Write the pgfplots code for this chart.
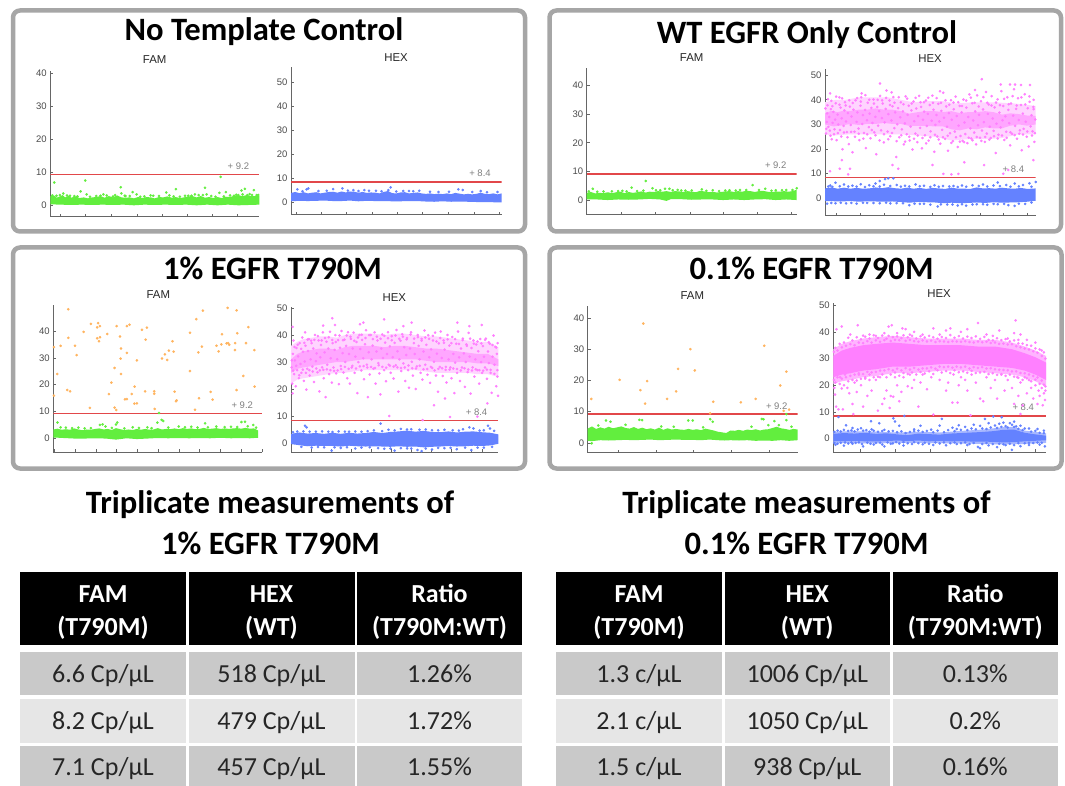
\documentclass[border=0pt]{standalone}
\usepackage{pgfplots}
\pgfplotsset{compat=1.18}
\usepackage{fontspec}
\setmainfont{Carlito}
\newfontfamily\lib{Liberation Sans}
\definecolor{gr}{HTML}{62EE3E}
\definecolor{bl}{HTML}{6482FF}
\definecolor{pk}{HTML}{FF80FF}
\definecolor{lpk}{HTML}{FFA6FF}
\definecolor{vpk}{HTML}{FFD4FF}
\definecolor{mpk}{HTML}{FFB4FF}
\definecolor{lbl}{HTML}{A8B8FF}
\definecolor{og}{HTML}{FFB45E}
\definecolor{rd}{HTML}{E2474A}
\definecolor{frame}{HTML}{A6A6A6}
\definecolor{axc}{HTML}{666666}
\definecolor{rowa}{HTML}{C9C9C9}
\definecolor{rowb}{HTML}{E6E6E6}
\pgfplotsset{panel/.style={scale only axis,anchor=south west,xmin=0,xmax=100,
 axis x line*=bottom,axis y line*=left,axis line style={-,axc,line width=1pt},
 xticklabels={},tick style={axc,line width=0.7pt},major tick length=3pt,tick align=inside,
 tick label style={font=\lib\fontsize{9.5}{9.5}\selectfont,text=black!70},
 /pgf/number format/assume math mode=true,ytick distance=10},
 dots/.style={only marks,mark=*,mark size=1.1pt,color=#1,mark options={draw=none,fill=#1}},
 band/.style={fill=#1,draw=none,no marks}}
\newcommand\thrtxt[3]{\node[font=\lib\fontsize{9.5}{10}\selectfont,text=black!50] at (axis cs:#1,#2) {+ #3};}
\newcommand\head[3]{\node[font=\lib\fontsize{11.4}{12}\selectfont,text=black!85] at (#1pt,-#2pt) {#3};}
\newcommand\boxx[4]{\draw[frame,line width=4.5pt,rounded corners=7pt,fill=white] (#1pt,-#2pt) rectangle (#3pt,-#4pt);}
\newcommand\ttl[3]{\node[font=\bfseries\fontsize{32.6}{33}\selectfont] at (#1pt,-#2pt) {#3};}
\newcommand\hcell[4]{\fill[black] (#1pt,-572pt) rectangle (#2pt,-645pt);
 \node[font=\bfseries\fontsize{26}{26}\selectfont,text=white,text height=0.75em,text depth=0.25em] at ({(#1+#2)/2*1pt},-600pt) {#3};
 \node[font=\bfseries\fontsize{26}{26}\selectfont,text=white,text height=0.75em,text depth=0.25em] at ({(#1+#2)/2*1pt},-633pt) {#4};}
\newcommand\rcell[6]{\fill[#5] (#1pt,-#3pt) rectangle (#2pt,-#4pt);
 \node[font=\fontsize{26}{26}\selectfont,text=black!85,text height=0.75em,text depth=0.25em] at ({(#1+#2)/2*1pt},{-(#3+#4)/2*1pt-6.5pt}) {#6};}
\begin{document}
\begin{tikzpicture}
\path[use as bounding box,fill=white] (0,0) rectangle (1065pt,-786pt);
\boxx{13}{10.5}{525}{231.5}
\boxx{549.5}{10.5}{1061}{231.5}
\boxx{13}{247.5}{525}{468.5}
\boxx{549.5}{247.5}{1061.5}{468.5}
\ttl{264}{32}{No Template Control}
\ttl{807}{35}{WT EGFR Only Control}
\ttl{272.5}{268}{1\% EGFR T790M}
\ttl{811.5}{268}{0.1\% EGFR T790M}
\head{154.7}{60}{FAM}\head{396}{57.3}{HEX}
\head{691.7}{57.7}{FAM}\head{930}{59}{HEX}
\head{158.3}{295}{FAM}\head{394.3}{297.3}{HEX}
\head{692.3}{295.7}{FAM}\head{939}{293.3}{HEX}

% ---------- No template FAM
\begin{axis}[panel,at={(50.3pt,-216.7pt)},width=209pt,height=145.7pt,ymin=-3.55,ymax=40.6,
 xtick={4.9,17,29,41.5,53.5,65.6,77.6,89.6}]
\addplot[band=gr] coordinates {(0,2.7)(2,2.8)(3,2.2)(5,2.7)(6,3)(7,2.3)(9,2.8)(10,2.2)(12,2.6)(14,2.1)(16,2.3)(18,2)(20,2.3)(22,2.4)(24,2.7)(26,2.2)(28,2.7)(30,2.3)(32,2.9)(34,2.3)(36,2.2)(38,2.3)(40,2)(42,2.4)(44,2.1)(46,2.4)(48,2.3)(50,2)(52,2.4)(54,2.3)(56,2.6)(58,2.2)(60,2.4)(62,2.1)(64,2.3)(66,2.6)(68,2.7)(70,2.3)(72,2.7)(74,2.2)(76,2.4)(78,2.1)(80,2.4)(82,2.1)(84,2.5)(86,2.4)(88,2.8)(90,2.9)(92,2.7)(94,3)(96,2.7)(98,2.7)(100,2.7)(100,0.1)(95,0)(90,-0.1)(85,0.1)(80,-0.1)(75,0.1)(70,-0.1)(65,0.1)(60,0)(55,0.1)(50,0)(45,0.1)(40,-0.1)(35,0.1)(30,0)(25,0.1)(20,0)(15,0.1)(10,0)(5,0.1)(0,0.2)} --cycle;
\addplot[dots=gr] coordinates {(1.9,6.8)(16.7,7.4)(14.5,4.1)(17.4,3.2)(25.4,3.2)(33.7,5.4)(34,3.5)(35.6,2.8)(39.4,3.9)(41.3,3.2)(49.3,2.8)(55.5,3.8)(60.1,4.8)(67.6,2.8)(69.2,3.2)(74,5.2)(74.8,3.2)(81.5,8.5)(80.9,3.7)(84,3.9)(87.9,2.8)(90,3)(91.5,4.4)(93.1,4.9)(94.3,3)(97.4,4.5)(98.7,3)(4.6,3)(6.2,3.5)(9.4,2.8)(22,2.7)(31,3)(48,2.9)(64.5,2.8)(71,3)(86,2.9)(95.4,3.3)(1,2.9)(3,2.8)(8,2.9)(11.5,2.7)(13,2.6)(19,2.5)(24,2.8)(27,2.9)(30,2.6)(36,2.7)(38,2.7)(43,2.5)(45,2.6)(52,2.7)(57,2.9)(59,2.6)(62,2.5)(66,2.8)(73,3)(77,2.7)(79,2.5)(83,2.6)(89,3.1)(92,3.2)(96.5,3)(99.5,3)};
\addplot[band=rd] coordinates {(0,8.95)(100,8.95)(100,9.45)(0,9.45)} --cycle;
\thrtxt{90}{11.8}{9.2}
\end{axis}
% ---------- No template HEX
\begin{axis}[panel,at={(291pt,-215pt)},width=210.7pt,height=147.7pt,ymin=-5.44,ymax=56.4,
 xtick={2.7,14.5,26.4,38.6,50.5,62.5,74.7,86.9,99}]
\addplot[band=bl] coordinates {(0,3.8)(2,4.2)(4,3.7)(6,4.1)(8,3.6)(10,3.9)(12,4.1)(14,3.6)(16,3.9)(18,4.2)(20,4.3)(22,3.9)(24,4.4)(26,4)(28,4.4)(30,4.3)(32,3.9)(34,4.2)(36,3.8)(38,4)(40,3.9)(42,3.6)(44,4.2)(46,4.6)(48,3.7)(50,3.6)(52,4)(54,4.1)(56,3.6)(58,3.8)(60,4)(62,3.6)(64,3.4)(66,3.6)(68,3.3)(70,3.5)(72,3.3)(74,3.6)(76,3.3)(78,3.8)(80,3.5)(82,3.2)(84,3.4)(86,3.2)(88,3.4)(90,3.9)(92,3.4)(94,3.3)(96,3.6)(98,3.2)(100,3.6)(100,-0.2)(96,-0.1)(92,-0.1)(88,0)(84,0.1)(80,0.2)(76,0.1)(72,0.3)(68,0.1)(64,0.2)(60,0.4)(56,0.4)(52,0.3)(48,0.3)(44,0.4)(40,0.4)(36,0.5)(32,0.3)(28,0.6)(24,0.4)(20,0.4)(16,0.6)(12,0.5)(8,0.4)(4,0.5)(0,0.3)} --cycle;
\addplot[dots=bl] coordinates {(3,5.3)(7.4,5.3)(8.2,5.7)(13,4.6)(20,5.4)(24.4,5.7)(29.6,5)(34.8,5)(40.3,4.7)(47.3,6.1)(46.2,5)(53.3,4.6)(60.9,4.7)(75,4.3)(79.4,5.3)(81.5,5)(90,4.6)(5.5,4.5)(17,4.7)(27,4.8)(32,4.6)(37,4.7)(43,4.5)(50,4.4)(56,4.6)(58,4.5)(66,4.3)(70,4.2)(86,4.2)(93,4.1)(98,4.2)};
\addplot[band=rd] coordinates {(0,8.07)(100,8.07)(100,8.73)(0,8.73)} --cycle;
\thrtxt{89.7}{12}{8.4}
\end{axis}
% ---------- WT FAM
\begin{axis}[panel,at={(586.7pt,-215pt)},width=210pt,height=146.7pt,ymin=-5.1,ymax=45.9,
 xtick={16.5,32.9,49.2,65,81.3,97.5}]
\addplot[band=gr] coordinates {(0,2.6)(2,2.9)(4,2.4)(6,2.6)(8,2.5)(10,2.8)(12,2.5)(14,2.8)(16,3)(18,2.5)(20,2.9)(22,2.6)(24,2.8)(26,3.1)(28,2.7)(30,3)(32,2.9)(34,3.2)(36,3)(38,3.2)(40,2.9)(42,3.2)(44,3.1)(46,2.9)(48,3.2)(50,3)(52,2.8)(54,3.3)(56,3.1)(58,2.8)(60,3)(62,2.7)(64,2.9)(66,3.1)(68,3.2)(70,2.9)(72,3.2)(74,3)(76,3.3)(78,3.2)(80,2.9)(82,3.2)(84,3.3)(86,3)(88,2.8)(90,3.1)(92,3)(94,3.2)(96,3)(98,3.2)(100,3.7)(100,0.1)(95,0.3)(90,0.1)(85,0.4)(80,0.3)(75,0.1)(70,0.3)(65,0.1)(60,0.3)(55,0.3)(50,0.2)(45,0.4)(40,0.4)(38,-0.2)(35,0.3)(30,0.5)(25,0.3)(20,0.2)(15,0.3)(10,0.1)(5,0.3)(0,0.3)} --cycle;
\addplot[dots=gr] coordinates {(2.9,4)(21.4,4.4)(28.1,6.7)(31.3,4.2)(37.3,4)(39.4,4)(43.3,3.6)(54.8,3.8)(79,5.3)(85,4)(100,4.2)(35,3.5)(47,3.4)(60,3.5)(68,3.5)(73,3.6)(90,3.5)(95,3.6)(12,3.1)(17,3.3)(1,3.1)(5,3)(8,3.1)(15,3.2)(19,3.1)(24,3.2)(27,3.4)(33,3.5)(41,3.5)(45,3.4)(50,3.4)(57,3.3)(63,3.2)(66,3.4)(71,3.4)(76,3.6)(82,3.6)(88,3.3)(93,3.5)(98,3.6)};
\addplot[band=rd] coordinates {(0,8.92)(100,8.92)(100,9.48)(0,9.48)} --cycle;
\thrtxt{90}{12.3}{9.2}
\end{axis}
% ---------- WT HEX
\begin{axis}[panel,at={(825pt,-216pt)},width=210.7pt,height=146.7pt,ymin=-7.2,ymax=52.4,
 xtick={5.5,16.9,28.2,39.6,51,62.3,73.6,84.8,96.2}]
\addplot[band=vpk] coordinates {(0,39)(5,40)(10,40)(16,41)(24,41)(30,41)(36,40)(42,39)(50,39.5)(56,39.5)(62,38.5)(70,39)(80,39)(90,38.5)(100,37.5)(100,26)(92,26)(84,24.5)(76,24)(68,24)(60,23.5)(52,25)(44,25.5)(36,26)(28,26)(20,26)(12,26)(4,25.5)(0,26)} --cycle;
\addplot[band=lpk] coordinates {(0,34.5)(3,35.5)(6,35)(9,35.6)(12,35.5)(16,36)(20,36)(24,36.5)(28,36)(32,36)(36,35.4)(40,34.4)(44,35)(48,35.4)(52,35.4)(56,35)(60,35.4)(64,34.6)(68,35)(72,35)(76,35.4)(80,35)(84,34)(88,34.5)(92,34.2)(96,33.6)(100,33.5)(100,30)(96,29.5)(92,30)(88,29.5)(84,28.4)(80,28.4)(76,28.8)(72,28)(68,28.4)(64,27.6)(60,28)(56,29.2)(52,29.2)(48,29.4)(44,29.4)(40,29.4)(36,30.2)(32,30.2)(28,30.6)(24,30.2)(20,30.2)(16,29.8)(12,30.2)(8,29.6)(4,29.2)(0,30)} --cycle;
\addplot[dots=pk] coordinates {(26.1,46.6)(74.4,48.4)(2.4,42.6)(17.4,42.6)(31.6,43)(54.6,43.5)(71.2,44)(83.4,46.2)(87.8,46.2)(90.2,46.2)(93,46)(97.3,46)(99,40)(8,15.5)(2.4,11)(7,12)(11.9,12)(11,9.7)(32,13.5)(34.8,12)(51,13.5)(56.2,9.9)(60,9.7)(63.3,9.9)(66.1,14.6)(75.5,13.5)(87,11.5)(84.6,10)(98.9,15.5)
(0.5,26.3)(0.8,31)(1,34.5)(1.2,37.8)(1.6,29)(2,33)(2.3,27.5)(2.8,36.2)(3,39.6)(3.2,24)(3.6,30.6)(4,35.1)(4.5,28)(4.8,32)(5.1,38.6)(5.5,23.6)(6,34)(6.3,30)(6.8,41)(7.1,27.7)(7.4,36.8)(7.9,32.5)(8.3,19.9)(8.8,29.4)(9.2,35.7)(9.5,39)(10,31.2)(10.4,26.9)(10.9,34.6)(11.3,22)(11.8,37.2)(12.2,29.8)(12.6,33.2)(13,18.7)(13.5,36)(14,27)(14.5,39.8)(15,31)(15.4,34.9)(15.9,28.3)(16.3,23.6)(16.8,37.6)(17.2,41)(17.7,30.2)(18,33.8)(18.5,26.5)(19,35.9)(19.4,20.4)(19.9,31.7)(20.3,38.8)(20.8,28.9)(21.2,34.4)(21.6,24.4)(22,36.7)(22.5,30.6)(23,40.1)(23.4,26.8)(23.9,33.1)(24.3,17.9)(24.8,37.1)(25.2,29.5)(25.7,35.4)(26.1,41.6)(26.6,27.6)(27,32.6)(27.4,38.5)(27.9,22.7)(28.3,30.8)(28.8,36.3)(29.2,43.8)(29.7,27.1)(30.1,34.2)(30.6,39.7)(31,25.2)(31.5,31.6)(32,37.4)(32.4,41.1)(32.9,28.5)(33.3,34.9)(33.8,16.8)(34.3,30.1)(34.7,36.6)(35.2,24.8)(35.7,32.9)(36,39)(36.5,28)(37,35.3)(37.4,21.9)(37.9,30.4)(38.3,41.4)(38.8,26)(39.2,33.9)(39.7,37.6)(40.2,23.5)(40.6,29.1)(41,35.7)(41.5,19.8)(42,39.3)(42.4,31.3)(42.9,26.3)(43.3,36.5)(43.8,22.8)(44.2,33.4)(44.7,41.6)(45.1,28.6)(45.6,37.1)(46,20.3)(46.5,31.9)(47,35.2)(47.4,25.6)(47.9,39.7)(48.3,29.4)(48.8,34.3)(49.2,23.4)(49.7,37.9)(50.1,27.2)(50.6,31.5)(51,41.7)(51.5,36)(51.9,18.9)(52.4,29.8)(52.9,33.8)(53.3,25.1)(53.8,38.4)(54.2,31.2)(54.7,22.2)(55.2,35.5)(55.6,27.8)(56.1,42.9)(56.5,32.7)(57,24.1)(57.5,37.3)(57.9,29.1)(58.4,19.3)(58.8,34.6)(59.3,26.4)(59.8,39.8)(60.2,31.9)(60.7,23.2)(61.1,36.2)(61.6,27.1)(62,41.3)(62.5,33.4)(63,20.8)(63.4,29.5)(63.9,37.5)(64.3,25.3)(64.8,34.9)(65.3,23.3)(65.7,40.1)(66.2,30.8)(66.6,26.1)(67.1,36.8)(67.6,22.4)(68,33)(68.5,42.2)(69,28.4)(69.4,24.3)(69.9,38.6)(70.3,31.6)(70.8,26.7)(71.3,35.3)(71.7,21.9)(72.2,41.8)(72.6,29.7)(73.1,33.9)(73.6,24.6)(74,39.4)(74.5,27.5)(75,36.1)(75.4,30.9)(75.9,22.9)(76.4,43.2)(76.8,26.3)(77.3,34.3)(77.7,38.1)(78.2,29.1)(78.7,24.5)(79.1,41.5)(79.6,32.4)(80,27.4)(80.5,36.9)(81,18.4)(81.4,30.3)(81.9,40.2)(82.3,25.8)(82.8,34.8)(83.3,28.8)(83.7,43.5)(84.2,31.7)(84.6,37.5)(85.1,23.7)(85.6,33.3)(86,27)(86.5,41)(87,35.9)(87.4,30.5)(87.9,21.5)(88.3,38.5)(88.8,26.2)(89.3,33.6)(89.7,44.3)(90.2,29.4)(90.7,36.3)(91.1,24.2)(91.6,40.6)(92,31.8)(92.5,27.6)(93,37.9)(93.4,19.5)(93.9,34.4)(94.3,28.2)(94.8,42.3)(95.3,31.1)(95.7,25)(96.2,36.6)(96.7,21)(97.1,39.2)(97.6,29.2)(98,33.7)(98.5,27.2)(98.9,37.1)(99.4,22.9)(99.8,32)};
\addplot[dots=pk] coordinates {(0.2,36.5)(0.6,28.2)(1.4,40.2)(2.6,25.4)(3.5,37.4)(4.3,26)(5.3,41.3)(6.1,26.5)(6.9,38)(7.7,25.1)(8.1,40.6)(9,26.7)(9.8,37.7)(10.7,24.8)(11.5,39.8)(12.4,27)(13.2,38.7)(14.2,25)(15.2,40.7)(16,26.2)(17,39.3)(18.2,24.2)(19.2,41.9)(20,26)(21,40)(22.2,27.7)(23.2,38.5)(24,25.6)(25,40)(25.9,23.5)(27.1,39.8)(28,26)(29,40.8)(30,24)(30.8,37.9)(31.8,26.5)(33,38.8)(34,23.2)(35,41)(36.2,25.6)(37.2,38.2)(38,23)(39,40.5)(40,25)(41.2,38.5)(42.2,24.2)(43,40.8)(44,25.5)(45.3,39)(46.3,24.5)(47,39)(48,22.3)(49,40.8)(50,24.8)(51.2,38.8)(52.2,25.8)(53,40.7)(54,23.9)(55,38.8)(56,24.8)(57.2,39.8)(58.2,25.4)(59,38)(60,22.5)(61,38.9)(62.2,24.8)(63.2,39)(64,23)(65,37.5)(66,22.8)(67,39.7)(68.2,24.6)(69.2,40.9)(70,23.6)(71,38.8)(72,24.9)(73,37.3)(74.2,23.3)(75.2,41.1)(76,24.9)(77,38.8)(78,23.8)(79,37.7)(80.2,25.2)(81.2,38.9)(82,24.3)(83,37.8)(84,25.5)(85,40.4)(86.2,24.5)(87.2,38.2)(88,26.8)(89,41.5)(90,25.7)(91,37.7)(92.2,26.2)(93.2,41)(94,25.9)(95,38.1)(96,27.1)(97,41.4)(98.2,25.5)(99,36.2)(99.6,26.5)};
\addplot[band=bl] coordinates {(0,4)(3,4.4)(6,3.9)(9,4.3)(12,3.9)(15,4.2)(18,3.9)(21,4)(24,4.4)(27,4.1)(30,4.5)(33,4.1)(36,3.9)(39,4.3)(42,3.9)(45,4.2)(48,3.8)(51,4.2)(54,4)(57,3.8)(60,4.3)(63,3.9)(66,3.9)(69,3.8)(72,4.4)(75,4)(78,4.1)(81,3.9)(84,4.3)(87,4)(90,3.9)(93,4.2)(96,3.8)(100,4)(100,-1)(96,-1.4)(92,-1.6)(88,-1.7)(84,-1.8)(80,-1.6)(76,-1.9)(72,-1.7)(68,-1.9)(64,-2)(60,-1.8)(56,-2)(52,-1.7)(48,-1.6)(44,-1.5)(40,-1.8)(36,-1.5)(32,-1.3)(28,-1.4)(24,-1.3)(20,-1.2)(16,-1.4)(12,-1.1)(8,-1.3)(4,-1.2)(0,-1.2)} --cycle;
\addplot[dots=bl] coordinates {(26,7)(28.5,7.8)(30,8.1)(32.4,8.1)(2.5,5.2)(5,6.3)(9,5.6)(13,5.1)(17,5.7)(21,5.3)(24,6)(28,5.5)(34,5.4)(38,5.1)(43,5.6)(47,5.1)(52,5.3)(56,5)(61,5)(65,5.2)(70,5.3)(75,5.6)(80,5.2)(82,6.4)(86,5.4)(90,6)(94,5.4)(97,6.1)(100,6.6)(1,-2.2)(5,-2)(10,-2.1)(15,-2.2)(20,-1.9)(26,-2)(31,-2.1)(37,-2)(40,-2.8)(45,-2.3)(50,-2.6)(53.5,-3.3)(58,-2.5)(63,-2.9)(67,-3)(72,-2.4)(77,-2.6)(82,-2.4)(87,-2.8)(90,-3.1)(95,-2.3)(1.5,4.8)(3.5,4.6)(7,4.9)(11,4.8)(15,4.7)(19,4.6)(23,4.9)(26,4.8)(31,5)(36,4.7)(40,4.8)(45,4.9)(50,4.6)(54,4.7)(59,4.8)(63,4.6)(67,4.7)(73,5)(77,4.8)(83,4.9)(88,4.7)(92,4.8)(98,4.7)(3,-1.9)(7.5,-1.8)(12.5,-1.9)(18,-1.8)(23,-1.9)(29,-1.8)(34,-2)(42.5,-2.2)(47,-2.2)(55,-2.5)(60.5,-2.5)(65,-2.4)(70,-2.5)(75,-2.4)(80,-2.3)(85,-2.3)(92,-2.2)(98,-1.7)};
\addplot[band=rd] coordinates {(0,8.07)(100,8.07)(100,8.73)(0,8.73)} --cycle;
\thrtxt{89.4}{11.6}{8.4}
\end{axis}
% ---------- 1% FAM
\begin{axis}[panel,at={(53.3pt,-452.3pt)},width=209pt,height=147.3pt,ymin=-5.36,ymax=49.9,
 xtick={0.5,10.5,20.4,30.3,40.2,50.3,60.2,70.1,80.1,90.2,100}]
\addplot[band=gr] coordinates {(0,3.2)(2,3.5)(4,3.1)(6,3.3)(8,3.1)(10,3.6)(12,3.2)(14,2.9)(16,3.2)(18,3.1)(20,3.4)(22,3.6)(24,3.2)(26,3.4)(28,3)(30,3.7)(32,3.3)(34,3)(36,3.2)(38,3)(40,3.4)(42,3.1)(44,3.4)(46,3.1)(48,3.2)(50,3.7)(52,3.2)(54,3.4)(56,3.3)(58,3.6)(60,3.3)(62,3.7)(64,3.4)(66,3.6)(68,3.3)(70,3.4)(72,3.8)(74,3.4)(76,3.5)(78,3.7)(80,3.4)(82,3.6)(84,3.4)(86,3.6)(88,3.7)(90,3.5)(92,3.8)(94,3.5)(96,3.6)(98,2.8)(98,0.1)(94,-0.1)(90,0)(85,-0.1)(80,0.1)(75,-0.1)(70,0)(65,-0.1)(60,0)(55,-0.1)(50,0)(45,-0.2)(40,-0.4)(35,-0.1)(30,-0.6)(25,-0.2)(20,-0.1)(15,-0.2)(10,-0.2)(5,0)(0,0.2)} --cycle;
\addplot[dots=gr] coordinates {(2,5.8)(22.3,4.9)(23.6,5.1)(30,5.1)(30.6,5.8)(49.8,5.8)(51.8,6.8)(52.6,6.4)(72.6,5.5)(90,6)(91.7,6.1)(95.7,4.9)(50.6,9.4)(25,4.3)(38,4)(60,4.3)(66,4.2)(78,4.3)(85,4.2)(93,4.4)(97,3.9)(3.5,4)(12,3.9)(45,4)(6,3.9)(9,3.7)(15,3.6)(18,3.7)(28,3.8)(34,3.6)(41,3.8)(47,3.7)(55,3.9)(63,4)(69,3.9)(74,4)(82,4.1)(88,4.1)};
\addplot[dots=og] coordinates {(0.3,34.1)(1.9,24)(3.5,34.6)(0.3,15.9)(7.2,48.3)(7.2,37.6)(6.7,18)(8,17.5)(10.4,34.6)(11.2,31.1)(14.5,39.8)(18,42.8)(17.5,11.3)(21.4,43.1)(21,41.5)(22.3,42)(21,37.4)(22.3,37.8)(21.9,36.3)(25.8,39)(30.3,42)(31.9,38.1)(32.4,33.6)(32.2,29.8)(35.2,31.9)(35.2,42)(36.5,42.5)(29.3,26.3)(32.4,24)(27.8,20.8)(26.6,16.5)(29.3,11.4)(30.1,10.5)(34.3,14.5)(35.2,14.6)(37.5,16.5)(38.9,19.3)(38.8,12.9)(40,13)(40,29.1)(42.4,40.6)(44.8,41.4)(44.2,36.9)(43.9,17.5)(48.3,17.5)(48.3,16.6)(48.5,10.9)(52,29.8)(53.4,31.4)(54.5,29.3)(55.3,32.8)(57,36.3)(57.6,32.4)(58,17.4)(59,14.1)(58.7,13.8)(65.4,39.5)(65.4,25.1)(67.8,10.6)(68.4,44.6)(69.4,32.1)(71.1,34.3)(71.6,47.8)(69.7,14.9)(75.3,17.3)(76.2,14.4)(78.1,34.6)(80.4,35.1)(79.1,32.5)(80.7,38.9)(83.4,48.8)(82.9,35.5)(83.7,35.6)(84.2,35)(87,35.6)(86.9,33)(87.7,47.9)(88,39.3)(87.7,18)(90.9,23.3)(92.2,35.6)(93.3,41.6)(96.2,33)(96.3,19.3)};
\addplot[band=rd] coordinates {(0,8.9)(100,8.9)(100,9.5)(0,9.5)} --cycle;
\thrtxt{90.4}{12.4}{9.2}
\end{axis}
% ---------- 1% HEX
\begin{axis}[panel,at={(291pt,-452.3pt)},width=207.3pt,height=145.6pt,ymin=-3.44,ymax=50.5,
 xtick={0.3,9.9,19.5,29.2,38.8,48.4,58,67.6,77.3,86.9,92.5}]
\addplot[band=vpk] coordinates {(0,36)(3,37.5)(6,38.5)(10,39)(14,39.5)(18,39.5)(22,39)(26,40)(30,40.5)(35,40.5)(40,40.5)(45,40)(50,40.5)(55,40.5)(60,40)(65,39.5)(70,39.5)(75,39)(80,38.5)(85,38)(90,37.5)(95,37.5)(100,35.5)(100,24.5)(95,25.5)(90,25.5)(85,26)(80,26)(75,26)(70,26)(65,26.5)(60,27)(55,27)(50,27)(45,27)(40,27)(35,27)(30,26.5)(26,26)(22,26)(18,25.5)(14,25)(10,24.5)(6,24)(3,23.5)(0,22)} --cycle;
\addplot[band=lpk] coordinates {(0,31)(3,33)(6,34)(10,34.5)(14,35)(18,35)(22,34.5)(26,35.5)(30,36)(35,36)(40,36)(45,35.5)(50,36)(55,36)(60,35.5)(65,35)(70,35)(75,34.5)(80,34)(85,33.5)(90,33)(95,33)(100,31)(100,28.5)(95,29.5)(90,29.5)(85,30)(80,30)(75,30)(70,30)(65,30.5)(60,31)(55,31)(50,31)(45,31)(40,31)(35,31)(30,30.5)(26,30)(22,30)(18,29.5)(14,29)(10,28.5)(6,28)(3,27.5)(0,26)} --cycle;
\addplot[dots=pk] coordinates {(0.8,43)(6.8,41)(19.9,46.2)(15.5,43.5)(21.2,43.7)(33.3,44)(34.9,44.6)(44.9,45.8)(58.2,44.6)(54.2,43.3)(80.2,44.6)(92,43.7)(86,43.3)(0.8,18.4)(47.4,10)(63.5,8.5)(76.7,9.6)(89.9,9.8)(94.7,14.7)(69,14)(74.3,16.5)
(0.3,28)(0.6,22)(0.9,33)(1.2,38)(1.5,25.5)(1.9,30.6)(2.3,21)(2.6,35.2)(3,27)(3.4,32.1)(3.8,24)(4.2,37)(4.6,29.3)(5,26)(5.4,39.1)(5.8,33.8)(6.2,23)(6.6,30.2)(7,36)(7.4,19.8)(7.8,27.5)(8.2,34.1)(8.6,38.5)(9,25)(9.5,31)(9.9,37)(10.3,28.3)(10.7,35)(11.1,22.6)(11.6,40)(12,30.3)(12.4,33.2)(12.8,26.2)(13.3,38)(13.7,19.1)(14.1,31.8)(14.5,36.3)(15,28)(15.4,41)(15.8,24)(16.2,33.6)(16.7,17)(17.1,37.5)(17.5,29)(18,35)(18.4,25.5)(18.8,41.2)(19.2,31.4)(19.7,22.4)(20.1,37)(20.5,28)(21,34.5)(21.4,40)(21.8,25.8)(22.3,31)(22.7,38.1)(23.1,21.8)(23.6,35.3)(24,28.5)(24.4,41.5)(24.9,33.3)(25.3,26.1)(25.8,38.3)(26.2,30)(26.6,36)(27.1,24)(27.5,41)(28,33)(28.4,22)(28.9,38.6)(29.3,28)(29.8,35)(30.2,40.9)(30.7,26)(31.1,32)(31.6,37.4)(32,18.5)(32.5,30)(33,40)(33.4,34.8)(33.9,26.9)(34.3,38.2)(34.8,31.4)(35.2,23.6)(35.7,36.6)(36.2,41.8)(36.6,29)(37.1,17)(37.5,33.6)(38,25.4)(38.5,40)(38.9,31)(39.4,36.1)(39.8,27.5)(40.3,41)(40.8,22)(41.2,33.9)(41.7,38)(42.1,29.6)(42.6,25.8)(43.1,18)(43.5,35)(44,40.2)(44.4,31.5)(44.9,27)(45.4,37.2)(45.8,22.9)(46.3,33)(46.8,41)(47.2,29)(47.7,35.8)(48.1,26)(48.6,39.6)(49.1,31.8)(49.5,23.9)(50,37.1)(50.5,28.8)(50.9,41.9)(51.4,34)(51.8,19)(52.3,31)(52.8,37.9)(53.2,26.7)(53.7,40.3)(54.2,29.5)(54.6,35.5)(55.1,23)(55.6,32.6)(56,38.9)(56.5,27)(56.9,20.5)(57.4,35)(57.9,41)(58.3,30.1)(58.8,25)(59.3,37)(59.7,33)(60.2,20)(60.7,28.4)(61.1,40)(61.6,36)(62,31)(62.5,26)(63,38.6)(63.4,23.5)(63.9,33.9)(64.4,41.7)(64.8,29)(65.3,36.4)(65.8,25.3)(66.2,39.9)(66.7,31.8)(67.1,22.3)(67.6,34.7)(68.1,27.8)(68.5,38)(69,30.1)(69.5,40.9)(69.9,25)(70.4,33.1)(70.9,19)(71.3,36.9)(71.8,28.2)(72.2,41.3)(72.7,31.5)(73.2,24.8)(73.6,38)(74.1,34.6)(74.6,27.1)(75,22.4)(75.5,40)(76,31)(76.4,36.1)(76.9,28)(77.4,24)(77.8,39.3)(78.3,33)(78.8,18.5)(79.2,29.8)(79.7,36.8)(80.1,26)(80.6,41.3)(81.1,31.7)(81.5,23)(82,35)(82.5,28)(82.9,38.7)(83.4,33.2)(83.9,20.8)(84.3,30)(84.8,36)(85.2,26.3)(85.7,40.8)(86.2,32)(86.6,18.3)(87.1,35.2)(87.6,28)(88,38)(88.5,24.6)(88.9,31)(89.4,36.5)(89.9,27)(90.3,34)(90.8,22)(91.3,38.5)(91.7,30)(92.2,26)(92.6,35.9)(93.1,32)(93.6,28)(94,38.7)(94.5,23.8)(95,33.9)(95.4,29.6)(95.9,36.8)(96.3,26)(96.8,18.6)(97.2,32)(97.7,39.8)(98.2,29)(98.6,35.6)(99,21)(99.3,33)(99.6,27)(99.9,17.5)(99.7,37)};
\addplot[dots=pk] coordinates {(0.4,30.6)(1,26.8)(1.7,35.6)(2.5,28.6)(3.2,36.4)(4,25.1)(4.9,34.9)(5.7,27.2)(6.4,37.1)(7.2,26)(8,38.3)(8.9,27)(9.7,37.9)(10.5,26.5)(11.3,38.2)(12.2,27.6)(13,39.6)(13.9,26.9)(14.8,38)(15.6,27.1)(16.4,38.9)(17.3,27.3)(18.2,39.2)(19,27)(19.9,38.2)(20.8,26.7)(21.6,37.4)(22.5,26.9)(23.4,39.8)(24.2,27.4)(25.1,38.1)(26,28.2)(26.9,39.8)(27.8,27.5)(28.7,39.4)(29.6,28.6)(30.5,37.9)(31.4,27.6)(32.3,39.1)(33.2,28.4)(34.1,40.1)(35,28.5)(35.9,38.9)(36.8,28)(37.7,40)(38.6,28.2)(39.5,38.5)(40.5,27.8)(41.4,39.4)(42.3,28.8)(43.2,38.6)(44.1,28.2)(45,39.7)(45.9,27.9)(46.8,38.8)(47.7,28.7)(48.6,38.1)(49.5,28.3)(50.4,39.8)(51.3,28)(52.2,38.6)(53.1,27.8)(54,39.4)(54.9,28)(55.8,38.4)(56.7,28.7)(57.6,40.2)(58.5,27.7)(59.4,38.7)(60.3,27.6)(61.2,39.2)(62.1,28.6)(63,37.9)(63.9,27.3)(64.8,39.1)(65.7,27.4)(66.6,38.6)(67.5,28.2)(68.4,39.7)(69.3,26.9)(70.2,37.6)(71.1,27.5)(72,38.9)(72.9,27.7)(73.8,37.1)(74.7,28.2)(75.6,38.4)(76.5,27.2)(77.4,37)(78.3,27.6)(79.2,38.5)(80.1,27.4)(81,36.7)(81.9,26.9)(82.8,38.1)(83.7,27.7)(84.6,36.5)(85.5,27.2)(86.4,38.7)(87.3,26.9)(88.2,36.8)(89.1,27.3)(90,37.6)(90.9,27)(91.8,36.9)(92.7,26.8)(93.6,38.2)(94.5,27.2)(95.4,37.3)(96.3,27.1)(97.2,36.3)(98.1,25.6)(99,35.4)(99.6,24.6)};
\addplot[band=bl] coordinates {(0,3.4)(4,3.9)(8,3.5)(12,3.7)(16,3.4)(20,3.8)(24,3.4)(28,3.8)(32,3.5)(36,3.7)(40,4.1)(44,3.7)(48,4.1)(52,4.3)(56,4.6)(60,4.2)(64,4.5)(68,4.1)(72,4)(76,4.3)(80,3.9)(84,4.2)(88,4.3)(92,4)(96,3.8)(100,3.2)(100,-0.3)(96,-0.9)(92,-1.1)(88,-1)(84,-1.2)(80,-1.3)(76,-1.1)(72,-1.3)(68,-1.4)(64,-1.6)(60,-1.3)(56,-1.4)(52,-1.2)(48,-1.4)(44,-1.3)(40,-1.2)(36,-1.3)(32,-1.2)(28,-1)(24,-1.3)(20,-1.1)(16,-1.1)(12,-1)(8,-1.2)(4,-0.8)(0,-0.4)} --cycle;
\addplot[dots=bl] coordinates {(6.8,6.4)(7.5,5.8)(43.2,7.2)(3,4.3)(12,4.2)(20,4.1)(28,4.2)(37,4.4)(47,4.9)(53,5.2)(58,5.1)(62,4.9)(68,4.7)(74,4.9)(83,5.1)(86,5.8)(88,5.4)(95,6.4)(96,5.4)(98,4.5)(19.6,-2.8)(10,-1.7)(16,-1.6)(24,-1.8)(31,-2)(38,-1.6)(45,-2.1)(50,-2.8)(56,-2)(61,-2.6)(63,-3)(68,-2.4)(71,-1.8)(80,-2.3)(87,-2.6)(90,-1.7)(1,4)(6,4.3)(9,4.2)(15,4.3)(18,4.2)(23,4.3)(26,4.2)(31,4.3)(34,4.2)(40,4.7)(44,4.4)(50,4.7)(56,5)(65,5)(71,4.7)(78,4.7)(81,4.6)(91,4.6)(93,4.7)(5,-1.4)(13,-1.5)(21,-1.6)(27,-1.6)(34,-1.7)(42,-1.9)(48,-2)(53,-1.9)(58,-2)(65,-2)(74,-1.9)(77,-1.8)(84,-1.7)(93,-1.7)(97,-1.4)};
\addplot[band=rd] coordinates {(0,8.1)(100,8.1)(100,8.7)(0,8.7)} --cycle;
\thrtxt{89.5}{11.5}{8.4}
\end{axis}
% ---------- 0.1% FAM
\begin{axis}[panel,at={(587.7pt,-452.7pt)},width=210pt,height=146.7pt,ymin=-3.1,ymax=43.8,
 xtick={14.6,32.5,50.5,68.3,86.3}]
\addplot[band=gr] coordinates {(0,4.6)(2,5.3)(4,4.5)(6,5)(8,4.6)(10,5.2)(12,4.7)(14,5)(16,5.3)(18,4.8)(20,4.6)(22,5.1)(24,4.5)(26,4.9)(28,4.4)(30,4.7)(32,4.3)(34,4.9)(36,4.2)(38,4.7)(40,4.3)(42,4.5)(44,4.3)(46,4.2)(48,4.5)(50,4.2)(52,4.4)(54,4.1)(56,4.6)(58,4.3)(60,4)(62,3.6)(64,3.4)(66,3.2)(68,4)(70,3.9)(72,4.2)(74,3.9)(76,4.3)(78,4.1)(80,4.4)(82,4)(84,4.3)(86,4.4)(88,4.8)(90,5.2)(92,4.7)(94,4.5)(96,4.2)(98,4.5)(100,4.3)(100,0.9)(96,0.7)(92,0.9)(88,0.7)(84,0.8)(80,0.7)(76,0.9)(72,0.8)(68,0.9)(65,0.8)(62,0.9)(58,1.1)(54,0.9)(50,1)(46,1)(42,1.1)(38,1)(34,0.9)(30,1.1)(26,1)(22,0.9)(18,1)(14,0.9)(10,0.8)(6,0.9)(2,0.6)(0,0.7)} --cycle;
\addplot[dots=gr] coordinates {(8.7,7.2)(10.9,6.8)(24.6,7.4)(25.9,7.3)(47.9,7.2)(50,7.2)(58.3,7.6)(59.5,6.8)(82.9,7.7)(83.7,7.6)(88.9,7)(94.6,7.3)(94.6,9.2)(1.9,-0.1)(5,5.6)(18,5.8)(35,5.3)(41,5.2)(55,5)(78,5.2)(86,5.7)(91,5.7)(97,5.2)};
\addplot[dots=og] coordinates {(1.7,14.1)(15.2,20.2)(26.5,38.2)(25.1,16.9)(28.3,19.8)(27.3,12.6)(37.8,14.1)(42.1,16.5)(43,23.7)(48.9,30)(51,23.2)(58.3,9.5)(59.8,13.2)(72.9,13)(80,14.1)(84.1,31.1)(91.7,18.4)(94.6,22.8)(93.3,10.3)(95.9,10.7)};
\addplot[band=rd] coordinates {(0,8.94)(100,8.94)(100,9.46)(0,9.46)} --cycle;
\thrtxt{90}{11.6}{9.2}
\end{axis}
% ---------- 0.1% HEX
\begin{axis}[panel,at={(833.3pt,-452pt)},width=212.7pt,height=148.7pt,ymin=-5,ymax=50.7,
 xtick={12.5,29,45.5,62,78.4,94.8}]
\addplot[band=mpk] coordinates {(0,33.5)(4,35.5)(8,36.5)(14,37.5)(20,38)(28,38.5)(36,38)(44,37.5)(52,37.5)(60,37.5)(68,37)(76,37)(84,36)(90,34.5)(95,33)(100,31)(100,19.5)(95,21.5)(90,23)(84,24)(76,24.5)(68,25)(60,25.5)(52,25.5)(44,25)(36,24.5)(28,24.5)(20,23.5)(14,23)(8,22)(4,21.5)(0,20.5)} --cycle;
\addplot[band=pk] coordinates {(0,31)(4,33)(8,34)(14,35)(20,35.5)(28,36)(36,35.5)(44,35)(52,35)(60,35)(68,34.5)(76,34.5)(84,33.5)(90,32)(95,30.5)(100,28.5)(100,22)(95,24)(90,25.5)(84,26.5)(76,27)(68,27.5)(60,28)(52,28)(44,27.5)(36,27)(28,27)(20,26)(14,25.5)(8,24.5)(4,24)(0,23)} --cycle;
\addplot[dots=pk] coordinates {(1.5,41)(4,42)(8,39)(11.5,42.5)(14,38.6)(17,39)(20,38.5)(24,39.5)(26,42)(27.5,42.5)(30,39.5)(32.5,41.3)(34,41)(36,39)(38,40)(42,39)(47,41.3)(50,39)(53,40.5)(55,41.3)(60,40)(63,41)(68,43.3)(72,39)(75,38.5)(78,40.5)(82,37.5)(85,39.5)(85.7,44.3)(87,37)(88,39)(91,37)(95,36)(98,33)
(0.5,19)(0.8,16.5)(1.3,12)(1.8,25)(2.4,11)(3.2,23)(4,18.8)(4.5,11)(5.5,24)(6.6,19)(7.5,17)(8,25)(9,13)(10,21)(11,17.5)(12,24)(13,20)(14,12)(15,22.5)(16,16)(17,24)(18,18)(20,22)(21,10.5)(22,23)(23,13)(24,15)(25,18)(26.5,11.5)(27,16)(28.2,15.7)(29,23)(30,20)(31,14)(32,17.5)(33,23)(35,19.6)(36,24)(37,19)(38,22)(40,12)(41,21)(42,24)(44,18.5)(46,23)(50,22)(53,18)(54,21)(56,13.5)(56.5,24)(58.4,13.5)(59,20)(60,23)(62,22)(63,18)(65,24)(67,21)(69,15)(70.5,14)(72,23)(74,19)(76,22)(77,15)(79,24)(80.5,18)(82,22)(84,19)(85,13)(86.5,23)(87,16)(88,21)(89,12.5)(90,23)(91,17)(92,22)(93,19)(94,15)(95,20)(96,13)(96.5,18)(97,16)(98,19)(98.5,12.5)(99,17)(99.5,14.5)(99.7,18)(9.4,9.2)(47,9)(64.5,8.8)(88,9.2)};
\addplot[dots=pk] coordinates {(0.3,32.5)(1,34)(2,33)(3,35.5)(4,34.2)(5,36)(6,34.8)(7,37.8)(8,35.4)(9,36.8)(10,35)(11,38)(12,36)(13,37.2)(14,35.8)(15,38.2)(16,36.5)(17,37.5)(18,36)(19,38.7)(20,36.8)(21,37.7)(22,36.3)(23,38.6)(24,36.9)(25,37.4)(26,38.5)(27,36.6)(28,38)(29,37)(30,38.3)(31,36.9)(32,37.7)(33,38.7)(34,36.6)(35,38)(36,37)(37,38.5)(38,36.5)(39,37.5)(40,36.3)(41,38.4)(42,36.8)(43,37.9)(44,36.4)(45,38.5)(46,36.7)(47,38)(48,36.2)(49,37.4)(50,36.5)(51,38.1)(52,36.4)(53,37.7)(54,36.2)(55,38.8)(56,36.5)(57,37.8)(58,36.4)(59,38.4)(60,36.3)(61,37.5)(62,36.5)(63,38.2)(64,36.2)(65,37.7)(66,36)(67,38.3)(68,36.4)(69,37.4)(70,36.1)(71,38.1)(72,36.3)(73,37)(74,35.8)(75,36.8)(76,36)(77,37.6)(78,35.5)(79,36.9)(80,35.6)(81,37.3)(82,35.3)(83,36.4)(84,35.4)(85,36.8)(86,34.6)(87,35.7)(88,34.2)(89,35.6)(90,33.8)(91,35)(92,33.4)(93,34.8)(94,32.7)(95,33.8)(96,32.2)(97,33.4)(98,31)(99,32.3)(99.7,30)
(0.3,22)(1,21)(2,23)(3,20.5)(4,22.5)(5,20)(6,23)(7,21.5)(8,23.5)(9,22)(10,24)(11,21.8)(12,24.5)(13,22.4)(14,24.2)(15,23)(16,25)(17,22)(18,24.8)(19,23)(20,25)(21,23.2)(22,25.5)(23,24)(24,25.6)(25,23)(26,26)(27,24)(28,25.6)(29,24.8)(30,26.2)(31,23.6)(32,25.6)(33,24.6)(34,26.4)(35,24.2)(36,25.9)(37,24.8)(38,26.5)(39,24)(40,25.9)(41,25)(42,26.3)(43,24.4)(44,26.3)(45,25.2)(46,26.7)(47,24.2)(48,26.2)(49,25.6)(50,27)(51,24.8)(52,26.8)(53,25.3)(54,27)(55,24.6)(56,26.6)(57,25.6)(58,27)(59,24.9)(60,26.7)(61,25.2)(62,27)(63,24.7)(64,26.3)(65,25.4)(66,26.8)(67,24.6)(68,26.5)(69,24.8)(70,26.8)(71,25)(72,26.3)(73,24.2)(74,26.4)(75,24.5)(76,26)(77,23.9)(78,25.8)(79,24.2)(80,25.7)(81,23.5)(82,25.6)(83,24)(84,25.2)(85,23.2)(86,25.2)(87,22.8)(88,24.6)(89,22)(90,24.5)(91,22.6)(92,24)(93,21.5)(94,23.5)(95,22.1)(96,22.9)(97,20.5)(98,21.8)(99,20.2)(99.7,19.6)};
\addplot[band=lbl] coordinates {(0,2.6)(10,2.8)(20,2.6)(30,2.3)(40,2.6)(50,2.3)(60,2.9)(70,3.4)(80,4.3)(85,4.4)(90,3)(100,2)(100,-1.6)(90,-2)(80,-2.2)(70,-2)(60,-1.8)(50,-1.7)(40,-1.6)(30,-1.6)(20,-1.8)(10,-1.7)(0,-1.7)} --cycle;
\addplot[band=bl] coordinates {(0,1.8)(5,2.1)(10,1.9)(15,2.2)(20,1.8)(25,2)(30,1.6)(35,1.3)(40,1.9)(45,1.7)(50,1.5)(55,1.9)(60,2.1)(65,2.3)(70,2.5)(75,2.8)(80,3.3)(85,3.4)(90,2.2)(95,1.6)(100,1.1)(100,-0.6)(95,-0.8)(90,-1)(85,-1.3)(80,-1.4)(75,-1.2)(70,-1.1)(65,-1.1)(60,-0.9)(55,-1)(50,-0.8)(45,-1)(40,-0.7)(35,-0.9)(30,-0.7)(25,-0.9)(20,-1)(15,-1)(10,-0.8)(5,-0.9)(0,-0.9)} --cycle;
\addplot[dots=bl] coordinates {(2.4,8.1)(17.7,6.5)(21.6,5.8)(28.2,7.6)(29,6.4)(33.4,8.5)(51,7.4)(71.3,7.4)(75.2,8.3)(79.2,8)(85,6.4)(6,5)(9,4)(13,3.9)(18,3.5)(24,3.3)(31,4.8)(38,3.5)(41,4.8)(46,3.4)(50,4.9)(56,4.1)(59,5)(62,4.4)(66,5.2)(69,4.8)(73,5.8)(76,4.9)(78,5.6)(80,6)(83,5.8)(84,5.2)(86,4.6)(88,4.8)(92,3.8)(96,3.6)(99,3)
(1,-2.3)(5,-2.6)(9,-1.9)(14,-2.9)(19,-2.2)(24,-2.9)(28,-1.8)(33,-2.6)(37,-2)(42,-2.1)(47,-2.4)(53,-2.5)(58,-2)(63,-2.4)(68,-3.1)(69,-3.6)(73,-2.5)(77,-3.2)(81,-2.4)(84,-4.2)(88,-2.8)(92,-2.4)(97,-2.2)(99.5,-2.9)
(0.5,2.5)(2,3)(3.5,2.7)(5,3.3)(7,2.9)(8.5,3.1)(10,2.7)(11.5,3.4)(14,3)(15.5,3.2)(17,2.6)(19,3)(21,2.6)(23,2.9)(26,2.7)(28,2.9)(30,2.4)(32,2.7)(34,2.1)(36,2.5)(38,2.8)(40,3)(42,2.5)(44,2.9)(47,2.4)(49,3)(52,2.4)(54,3.2)(57,2.8)(58,3.6)(60,3.3)(63,3.2)(65,3.8)(67,3.5)(70,3.8)(72,3.6)(74,4.2)(77,4)(79,4.4)(81,4.7)(82,4.2)(85,4.4)(87,3.7)(89,3.2)(90,3.8)(93,2.6)(95,2.9)(97,2.2)(99,2.1)
(0.5,-1.6)(2,-1.9)(3.5,-1.5)(5.5,-1.4)(7,-1.8)(8.5,-1.4)(10.5,-1.6)(12,-1.4)(13.5,-2)(16,-1.5)(17.5,-1.9)(20,-1.6)(22,-1.5)(23,-2.2)(25.5,-1.4)(27,-1.9)(29.5,-1.3)(31,-1.8)(33,-1.3)(35,-1.7)(38,-1.3)(40,-1.7)(43,-1.5)(45,-1.9)(48,-1.4)(50,-1.8)(52,-1.4)(55,-1.7)(57,-1.4)(60,-1.7)(62,-1.4)(64,-2)(66,-1.6)(70,-2)(72,-1.6)(75,-2)(78,-1.9)(80,-2.1)(83,-1.9)(85,-2.4)(87,-1.7)(90,-1.7)(92,-1.5)(94,-1.6)(96,-1.4)(98,-1.5)};
\addplot[band=rd] coordinates {(0,8.1)(100,8.1)(100,8.7)(0,8.7)} --cycle;
\thrtxt{89.3}{11.7}{8.4}
\end{axis}

% ---------- lower titles
\node[font=\bfseries\fontsize{32.6}{33}\selectfont] at (270pt,-505pt) {Triplicate measurements of};
\node[font=\bfseries\fontsize{32.6}{33}\selectfont] at (270.5pt,-543pt) {1\% EGFR T790M};
\node[font=\bfseries\fontsize{32.6}{33}\selectfont] at (806.5pt,-505pt) {Triplicate measurements of};
\node[font=\bfseries\fontsize{32.6}{33}\selectfont] at (806.5pt,-543pt) {0.1\% EGFR T790M};
% ---------- tables
\hcell{20}{186}{FAM}{(T790M)}\hcell{188.5}{354.5}{HEX}{(WT)}\hcell{357}{522}{Ratio}{(T790M:WT)}
\rcell{20}{186}{652}{695}{rowa}{6.6 Cp/µL}\rcell{188.5}{354.5}{652}{695}{rowa}{518 Cp/µL}\rcell{357}{522}{652}{695}{rowa}{1.26\%}
\rcell{20}{186}{698.5}{743}{rowb}{8.2 Cp/µL}\rcell{188.5}{354.5}{698.5}{743}{rowb}{479 Cp/µL}\rcell{357}{522}{698.5}{743}{rowb}{1.72\%}
\rcell{20}{186}{746}{786}{rowa}{7.1 Cp/µL}\rcell{188.5}{354.5}{746}{786}{rowa}{457 Cp/µL}\rcell{357}{522}{746}{786}{rowa}{1.55\%}
\hcell{556}{722}{FAM}{(T790M)}\hcell{724.5}{890}{HEX}{(WT)}\hcell{892.5}{1058}{Ratio}{(T790M:WT)}
\rcell{556}{722}{652}{695}{rowa}{1.3 c/µL}\rcell{724.5}{890}{652}{695}{rowa}{1006 Cp/µL}\rcell{892.5}{1058}{652}{695}{rowa}{0.13\%}
\rcell{556}{722}{698.5}{743}{rowb}{2.1 c/µL}\rcell{724.5}{890}{698.5}{743}{rowb}{1050 Cp/µL}\rcell{892.5}{1058}{698.5}{743}{rowb}{0.2\%}
\rcell{556}{722}{746}{786}{rowa}{1.5 c/µL}\rcell{724.5}{890}{746}{786}{rowa}{938 Cp/µL}\rcell{892.5}{1058}{746}{786}{rowa}{0.16\%}
\end{tikzpicture}
\end{document}
